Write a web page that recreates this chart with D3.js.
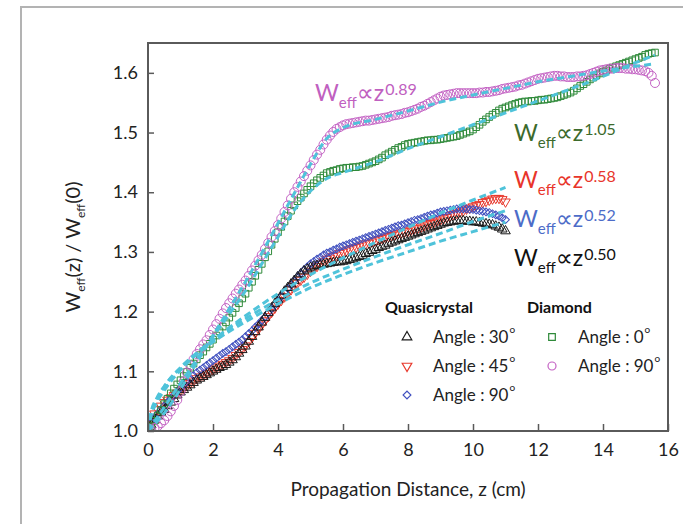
<!DOCTYPE html>
<html>
<head>
<meta charset="utf-8">
<script src="https://cdnjs.cloudflare.com/ajax/libs/d3/7.8.5/d3.min.js"></script>
<style>
  html, body { margin: 0; padding: 0; background: #fff; }
  svg { display: block; }
  text { font-family: Lato, "Open Sans", sans-serif; }
</style>
</head>
<body>
<svg id="chart" width="683" height="524"></svg>
<script>
// ---------------- DATA ----------------
const zStep = 0.1; // sampling step of the measured series (cm)

const q30 = [1.000,1.010,1.018,1.025,1.031,1.036,1.042,1.048,1.054,1.060,1.065,1.069,1.073,1.077,1.081,1.085,1.088,1.091,1.094,1.097,1.100,1.103,1.106,1.108,1.111,1.115,1.119,1.124,1.130,1.136,1.142,1.150,1.158,1.166,1.174,1.182,1.190,1.198,1.206,1.213,1.220,1.227,1.234,1.240,1.246,1.252,1.258,1.263,1.268,1.271,1.274,1.276,1.277,1.278,1.279,1.280,1.281,1.282,1.283,1.283,1.284,1.285,1.287,1.288,1.290,1.292,1.294,1.297,1.299,1.302,1.304,1.307,1.309,1.311,1.314,1.316,1.318,1.320,1.322,1.324,1.326,1.328,1.330,1.332,1.334,1.336,1.338,1.340,1.342,1.344,1.346,1.348,1.349,1.350,1.351,1.352,1.352,1.352,1.351,1.351,1.350,1.350,1.349,1.348,1.347,1.346,1.345,1.343,1.341,1.338,1.335];

const q45 = [1.010,1.020,1.029,1.036,1.042,1.048,1.052,1.056,1.060,1.064,1.068,1.072,1.076,1.080,1.084,1.088,1.091,1.094,1.097,1.100,1.103,1.106,1.109,1.112,1.115,1.118,1.122,1.127,1.132,1.137,1.143,1.150,1.157,1.164,1.171,1.178,1.185,1.192,1.199,1.206,1.213,1.219,1.225,1.231,1.237,1.243,1.248,1.253,1.258,1.263,1.268,1.272,1.276,1.280,1.284,1.288,1.290,1.293,1.295,1.298,1.300,1.302,1.304,1.306,1.308,1.310,1.312,1.314,1.315,1.317,1.319,1.321,1.323,1.325,1.326,1.328,1.329,1.331,1.332,1.334,1.335,1.337,1.339,1.340,1.342,1.344,1.346,1.348,1.350,1.352,1.354,1.356,1.358,1.361,1.363,1.365,1.367,1.369,1.372,1.374,1.376,1.378,1.380,1.383,1.385,1.387,1.389,1.390,1.390,1.388,1.384];

const q90 = [1.005,1.014,1.022,1.029,1.036,1.042,1.048,1.054,1.060,1.066,1.072,1.077,1.083,1.088,1.093,1.098,1.102,1.106,1.110,1.114,1.118,1.122,1.126,1.130,1.133,1.137,1.141,1.145,1.149,1.153,1.158,1.163,1.168,1.174,1.179,1.185,1.191,1.198,1.205,1.211,1.218,1.225,1.232,1.239,1.245,1.252,1.258,1.264,1.270,1.275,1.280,1.284,1.288,1.291,1.295,1.298,1.300,1.303,1.305,1.308,1.310,1.312,1.314,1.316,1.318,1.320,1.322,1.324,1.326,1.328,1.330,1.332,1.334,1.336,1.338,1.340,1.342,1.344,1.345,1.347,1.349,1.351,1.353,1.354,1.356,1.358,1.360,1.362,1.363,1.365,1.367,1.368,1.369,1.370,1.371,1.372,1.372,1.372,1.372,1.371,1.371,1.370,1.369,1.368,1.367,1.366,1.364,1.362,1.360,1.357,1.354];

const d0 = [1.000,1.008,1.017,1.026,1.035,1.045,1.054,1.063,1.071,1.078,1.085,1.092,1.099,1.106,1.113,1.120,1.127,1.133,1.140,1.146,1.153,1.160,1.167,1.175,1.182,1.190,1.198,1.206,1.214,1.222,1.230,1.240,1.250,1.260,1.270,1.280,1.291,1.301,1.312,1.322,1.333,1.342,1.351,1.360,1.369,1.378,1.385,1.391,1.398,1.404,1.410,1.415,1.420,1.424,1.428,1.432,1.434,1.436,1.437,1.439,1.440,1.441,1.441,1.442,1.442,1.443,1.444,1.446,1.448,1.450,1.452,1.455,1.458,1.462,1.465,1.468,1.471,1.474,1.476,1.479,1.481,1.482,1.483,1.484,1.485,1.486,1.487,1.487,1.488,1.488,1.489,1.490,1.491,1.492,1.493,1.494,1.496,1.498,1.500,1.502,1.505,1.509,1.513,1.518,1.522,1.526,1.530,1.533,1.537,1.540,1.542,1.544,1.546,1.548,1.550,1.551,1.552,1.552,1.553,1.553,1.554,1.555,1.555,1.556,1.557,1.558,1.559,1.561,1.563,1.565,1.567,1.570,1.574,1.578,1.581,1.585,1.589,1.592,1.596,1.599,1.602,1.604,1.607,1.609,1.611,1.613,1.615,1.617,1.619,1.621,1.623,1.625,1.627,1.630,1.632,1.633,1.634];

const d90 = [1.000,1.002,1.005,1.008,1.013,1.018,1.025,1.033,1.042,1.052,1.066,1.083,1.098,1.110,1.120,1.129,1.137,1.145,1.152,1.161,1.170,1.179,1.188,1.197,1.206,1.214,1.222,1.230,1.237,1.245,1.252,1.260,1.269,1.277,1.286,1.295,1.305,1.315,1.325,1.335,1.345,1.356,1.367,1.378,1.389,1.400,1.409,1.418,1.427,1.436,1.445,1.454,1.463,1.471,1.480,1.488,1.495,1.501,1.506,1.509,1.512,1.514,1.515,1.516,1.517,1.518,1.519,1.520,1.520,1.521,1.522,1.523,1.524,1.525,1.526,1.528,1.529,1.530,1.531,1.533,1.534,1.536,1.538,1.540,1.543,1.545,1.548,1.551,1.554,1.557,1.560,1.562,1.563,1.564,1.565,1.566,1.566,1.566,1.566,1.566,1.566,1.566,1.567,1.567,1.568,1.568,1.569,1.570,1.571,1.573,1.574,1.575,1.576,1.577,1.579,1.580,1.582,1.584,1.586,1.588,1.590,1.591,1.592,1.593,1.594,1.595,1.595,1.594,1.594,1.593,1.593,1.593,1.594,1.594,1.595,1.596,1.598,1.600,1.602,1.604,1.605,1.606,1.607,1.607,1.608,1.608,1.608,1.607,1.607,1.606,1.606,1.605,1.604,1.603,1.600,1.595,1.583];

// Power-law fit curves (cyan dashed)
const fitQz   = [0, 0.1, 0.25, 0.5, 1, 1.5, 2, 3, 4, 5, 6, 7, 8, 9, 10, 11];
const fitQ050 = [1.000,1.033,1.053,1.075,1.106,1.129,1.149,1.183,1.213,1.240,1.262,1.282,1.300,1.318,1.334,1.350];
const fitQ052 = [1.000,1.031,1.050,1.074,1.106,1.131,1.152,1.188,1.220,1.248,1.271,1.292,1.312,1.331,1.351,1.369];
const fitQ058 = [1.000,1.027,1.046,1.068,1.102,1.129,1.152,1.193,1.230,1.262,1.290,1.316,1.341,1.365,1.387,1.408];
const fitDz   = [0, 0.5, 1, 1.5, 2, 2.5, 3, 3.5, 4, 4.5, 5, 5.5, 6, 7, 8, 9, 10, 11, 12, 13, 14, 15, 15.6];
const fitD089 = [1.000,1.030,1.070,1.115,1.160,1.205,1.250,1.298,1.348,1.398,1.447,1.490,1.508,1.522,1.536,1.551,1.563,1.574,1.585,1.594,1.603,1.611,1.615];
const fitD105 = [1.000,1.040,1.080,1.120,1.158,1.196,1.235,1.280,1.325,1.370,1.402,1.423,1.433,1.451,1.473,1.493,1.513,1.533,1.553,1.573,1.594,1.617,1.630];

const xTicks = [0, 2, 4, 6, 8, 10, 12, 14, 16];
const yTicks = [1.0, 1.1, 1.2, 1.3, 1.4, 1.5, 1.6];

const seriesNames  = ["Angle : 30", "Angle : 45", "Angle : 90", "Angle : 0", "Angle : 90"];
const groupNames   = ["Quasicrystal", "Diamond"];
const fitExponents = ["0.89", "1.05", "0.58", "0.52", "0.50"];

// ---------------- CHART ----------------
const svg = d3.select("#chart");
const W = 683, H = 524;
const plot = {left: 148, right: 668, top: 43, bottom: 431};

const x = d3.scaleLinear().domain([0, 16]).range([plot.left, plot.right]);
const y = d3.scaleLinear().domain([1.0, 1.65]).range([plot.bottom, plot.top]);

// outer gray frame
svg.append("path")
  .attr("d", `M21,${H + 5} V7 H${W + 5}`)
  .attr("fill", "none").attr("stroke", "#b3b3b3").attr("stroke-width", 2);

const axisColor = "#5a5a5a";
const tickFont = 18;

svg.append("defs").append("clipPath").attr("id", "clip")
  .append("rect").attr("x", plot.left).attr("y", plot.top - 6)
  .attr("width", plot.right - plot.left + 6).attr("height", plot.bottom - plot.top + 6);

const dataG = svg.append("g").attr("clip-path", "url(#clip)");

const colors = {
  q30: "#1a1a1a", q45: "#e8382c", q90: "#3f4fbf", d0: "#2f8a3a", d90: "#c463c4", fit: "#4fc3da"
};

const symTri = d3.symbol().type(d3.symbolTriangle).size(40);
const symSquare = d3.symbol().type(d3.symbolSquare).size(44);
// diamond = square rotated by 45 degrees
const symDiamond = d3.symbol().type(d3.symbolSquare).size(30);

function markerTransform(kind, px, py) {
  const rot = kind === "tridown" ? 180 : kind === "diamond" ? 45 : 0;
  return `translate(${px},${py}) rotate(${rot})`;
}
function markerGen(kind) {
  return kind === "tri" || kind === "tridown" ? symTri
    : kind === "diamond" ? symDiamond : symSquare;
}

function drawSeries(vals, color, kind) {
  const g = dataG.append("g");
  const pts = vals.map((v, i) => [i * zStep, v]);
  if (kind === "circle") {
    g.selectAll("circle").data(pts).join("circle")
      .attr("cx", d => x(d[0])).attr("cy", d => y(d[1])).attr("r", 4.5)
      .attr("fill", "none").attr("stroke", color).attr("stroke-width", 1);
  } else {
    g.selectAll("path").data(pts).join("path")
      .attr("d", markerGen(kind)())
      .attr("transform", d => markerTransform(kind, x(d[0]), y(d[1])))
      .attr("fill", "none").attr("stroke", color).attr("stroke-width", 1);
  }
}

drawSeries(q45, colors.q45, "tridown");
drawSeries(q90, colors.q90, "diamond");
drawSeries(q30, colors.q30, "tri");
drawSeries(d0, colors.d0, "square");
drawSeries(d90, colors.d90, "circle");

// fits
const fitLine = d3.line().x(d => x(d[0])).y(d => y(d[1])).curve(d3.curveMonotoneX);
function drawFit(zs, vals) {
  dataG.append("path")
    .attr("d", fitLine(zs.map((z, i) => [z, vals[i]])))
    .attr("fill", "none").attr("stroke", colors.fit)
    .attr("stroke-width", 3).attr("stroke-dasharray", "7,4");
}
drawFit(fitQz, fitQ050);
drawFit(fitQz, fitQ052);
drawFit(fitQz, fitQ058);
drawFit(fitDz, fitD089);
drawFit(fitDz, fitD105);

// axes
const yAxis = d3.axisLeft(y).tickValues(yTicks).tickFormat(d3.format(".1f"))
  .tickSize(-6).tickPadding(10);
const xAxis = d3.axisBottom(x).tickValues(xTicks).tickFormat(d3.format("d"))
  .tickSize(-7).tickPadding(12);

const gy = svg.append("g").attr("transform", `translate(${plot.left},0)`).call(yAxis);
const gx = svg.append("g").attr("transform", `translate(0,${plot.bottom})`).call(xAxis);
[gx, gy].forEach(g => {
  g.select(".domain").remove();
  g.selectAll(".tick line").attr("stroke", axisColor).attr("stroke-width", 1.5);
  g.selectAll(".tick text").attr("fill", "#222").style("font-size", tickFont + "px")
    .style("font-family", "Lato, sans-serif");
});

// plot box
svg.append("rect")
  .attr("x", plot.left).attr("y", plot.top)
  .attr("width", plot.right - plot.left).attr("height", plot.bottom - plot.top)
  .attr("fill", "none").attr("stroke", axisColor).attr("stroke-width", 2);

// axis titles
svg.append("text")
  .attr("x", (plot.left + plot.right) / 2).attr("y", 496)
  .attr("text-anchor", "middle").attr("fill", "#222").style("font-size", "19px")
  .text("Propagation Distance, z (cm)");

const yt = svg.append("text")
  .attr("transform", `translate(80,${(plot.top + plot.bottom) / 2 + 10}) rotate(-90)`)
  .attr("text-anchor", "middle").attr("fill", "#222").style("font-size", "20px");
yt.append("tspan").text("W");
yt.append("tspan").text("eff").attr("dy", 5).style("font-size", "12px");
yt.append("tspan").text("(z) / W").attr("dy", -5);
yt.append("tspan").text("eff").attr("dy", 5).style("font-size", "12px");
yt.append("tspan").text("(0)").attr("dy", -5);

// power-law annotations
const annos = [
  {x: 315, y: 101, color: "#c060c0", exp: fitExponents[0]},
  {x: 514, y: 141, color: "#3c6a2c", exp: fitExponents[1]},
  {x: 514, y: 188, color: "#e8352b", exp: fitExponents[2]},
  {x: 514, y: 227, color: "#4d6cc8", exp: fitExponents[3]},
  {x: 514, y: 266, color: "#111111", exp: fitExponents[4]}
];
annos.forEach(a => {
  const t = svg.append("text").attr("x", a.x).attr("y", a.y).attr("fill", a.color)
    .style("font-size", "23px");
  t.append("tspan").text("W");
  t.append("tspan").text("eff").attr("dy", 7).style("font-size", "15px");
  t.append("tspan").text("\u221D").attr("dy", -7).attr("dx", 0)
    .style("font-size", "24px").style("font-family", "DejaVu Sans, sans-serif");
  t.append("tspan").text("z").style("font-size", "23px");
  t.append("tspan").text(a.exp).attr("dy", -6).attr("dx", 1).style("font-size", "16px");
});

// legend
const leg = svg.append("g");
const legFont = 17;
leg.append("text").attr("x", 385).attr("y", 313).attr("fill", "#111")
  .style("font-size", "16px").style("font-weight", "bold").text(groupNames[0]);
leg.append("text").attr("x", 527).attr("y", 313).attr("fill", "#111")
  .style("font-size", "16px").style("font-weight", "bold").text(groupNames[1]);

const legItems = [
  {mx: 407, my: 337, kind: "tri", color: colors.q30, name: seriesNames[0]},
  {mx: 407, my: 366, kind: "tridown", color: colors.q45, name: seriesNames[1]},
  {mx: 407, my: 395, kind: "diamond", color: colors.q90, name: seriesNames[2]},
  {mx: 552, my: 337, kind: "square", color: colors.d0, name: seriesNames[3]},
  {mx: 552, my: 366, kind: "circle", color: colors.d90, name: seriesNames[4]}
];
legItems.forEach(it => {
  if (it.kind === "circle") {
    leg.append("circle").attr("cx", it.mx).attr("cy", it.my).attr("r", 4)
      .attr("fill", "none").attr("stroke", it.color).attr("stroke-width", 1.2);
  } else {
    leg.append("path").attr("d", markerGen(it.kind)())
      .attr("transform", markerTransform(it.kind, it.mx, it.my))
      .attr("fill", "none").attr("stroke", it.color).attr("stroke-width", 1.2);
  }
  const t = leg.append("text").attr("x", it.mx + 26).attr("y", it.my + 6)
    .attr("fill", "#222").style("font-size", legFont + "px");
  t.append("tspan").text(it.name);
  t.append("tspan").text("o").attr("dy", -10).attr("dx", 1).style("font-size", "10px");
});
</script>
</body>
</html>
